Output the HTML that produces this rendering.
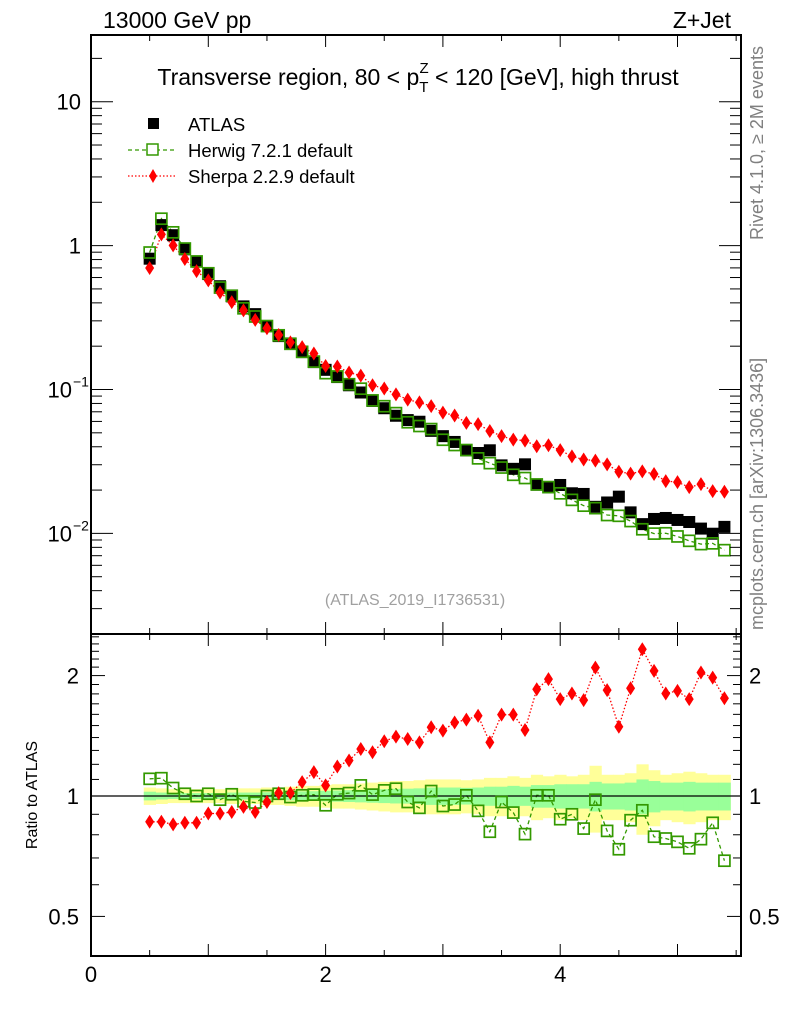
<!DOCTYPE html>
<html><head><meta charset="utf-8"><style>
body{margin:0;background:#fff}
svg text{font-family:"Liberation Sans",sans-serif}
</style></head><body>
<svg id="c" width="786" height="1024" xmlns="http://www.w3.org/2000/svg">
<text x="103" y="28" font-size="23">13000 GeV pp</text>
<text x="731" y="28" font-size="23" text-anchor="end">Z+Jet</text>
<text transform="translate(763,240) rotate(-90)" font-size="18" fill="#808080">Rivet 4.1.0, ≥ 2M events</text>
<text transform="translate(763,630) rotate(-90)" font-size="18" fill="#808080">mcplots.cern.ch [arXiv:1306.3436]</text>
<text x="418" y="85" font-size="23" text-anchor="middle">Transverse region, 80 &lt; p<tspan font-size="15" dy="7">T</tspan><tspan font-size="15" dx="-9" dy="-19">Z</tspan><tspan dy="12"> &lt; 120 [GeV], high thrust</tspan></text>
<text x="415" y="605" font-size="16" fill="#a0a0a0" text-anchor="middle">(ATLAS_2019_I1736531)</text>
<text transform="translate(37,795) rotate(-90)" font-size="16" text-anchor="middle">Ratio to ATLAS</text>
<g>
<rect x="148" y="118" width="11" height="11" fill="#000"/>
<text x="188" y="131" font-size="18.5">ATLAS</text>
<line x1="128" y1="150" x2="175" y2="150" stroke="#339900" stroke-width="1.2" stroke-dasharray="4,3"/>
<rect x="147" y="144" width="11" height="11" fill="#fff" stroke="#339900" stroke-width="1.5"/>
<text x="188" y="157" font-size="18.5">Herwig 7.2.1 default</text>
<line x1="128" y1="176" x2="175" y2="176" stroke="#f00" stroke-width="1.2" stroke-dasharray="1.5,2"/>
<path d="M153,169 L157,176 L153,183 L149,176Z" fill="#f00"/>
<text x="188" y="183" font-size="18.5">Sherpa 2.2.9 default</text>
</g>
<g id="bands"></g><g id="lines"></g><g id="marks"></g><g id="axes"></g>
</svg>
<script>
const xs=[0.5,0.6,0.7,0.8,0.9,1.0,1.1,1.2,1.3,1.4,1.5,1.6,1.7,1.8,1.9,2.0,2.1,2.2,2.3,2.4,2.5,2.6,2.7,2.8,2.9,3.0,3.1,3.2,3.3,3.4,3.5,3.6,3.7,3.8,3.9,4.0,4.1,4.2,4.3,4.4,4.5,4.6,4.7,4.8,4.9,5.0,5.1,5.2,5.3,5.4];
const atlas=[0.811,1.388,1.181,0.942,0.776,0.634,0.522,0.444,0.378,0.334,0.276,0.235,0.209,0.182,0.155,0.137,0.122,0.107,0.0953,0.0833,0.0741,0.0657,0.0613,0.0597,0.0516,0.0474,0.0432,0.0378,0.0362,0.0378,0.0297,0.0281,0.0302,0.0218,0.0209,0.0217,0.0190,0.0188,0.0153,0.0164,0.0180,0.0140,0.0116,0.0126,0.0128,0.0124,0.0120,0.0108,0.00995,0.0111];
const herwigRatio=[1.104,1.108,1.047,1.013,1.0,1.013,0.979,1.010,0.970,0.963,1.0,1.013,0.994,1.004,1.008,0.948,1.010,1.017,1.063,1.008,1.033,1.043,0.966,0.934,1.029,0.944,0.952,1.004,0.918,0.814,0.966,0.909,0.803,1.004,1.004,0.875,0.900,0.829,0.979,0.818,0.736,0.870,0.921,0.791,0.783,0.768,0.740,0.780,0.857,0.689];
const sherpaRatio=[0.862,0.862,0.849,0.857,0.857,0.904,0.904,0.912,0.939,0.912,0.966,1.017,1.017,1.083,1.147,1.063,1.185,1.227,1.311,1.286,1.370,1.407,1.388,1.362,1.485,1.457,1.527,1.552,1.587,1.362,1.597,1.597,1.462,1.849,1.959,1.746,1.804,1.737,2.094,1.839,1.490,1.859,2.327,2.055,1.804,1.832,1.746,2.036,1.976,1.756];
const totalUnc=[0.05,0.045,0.04,0.04,0.04,0.04,0.04,0.045,0.045,0.045,0.05,0.05,0.055,0.06,0.06,0.065,0.07,0.07,0.075,0.08,0.085,0.09,0.09,0.095,0.1,0.1,0.1,0.095,0.1,0.11,0.11,0.12,0.11,0.13,0.12,0.13,0.12,0.13,0.19,0.13,0.13,0.14,0.2,0.16,0.13,0.14,0.15,0.14,0.13,0.13];
const statUnc=[0.025,0.02,0.017,0.017,0.017,0.017,0.017,0.02,0.02,0.02,0.022,0.022,0.025,0.027,0.028,0.03,0.032,0.034,0.036,0.038,0.04,0.042,0.043,0.045,0.05,0.05,0.05,0.048,0.05,0.055,0.055,0.06,0.055,0.065,0.065,0.07,0.07,0.07,0.085,0.075,0.075,0.08,0.1,0.09,0.08,0.08,0.085,0.08,0.08,0.08];
const mainTicks=[{v:10,l:"10"},{v:1,l:"1"},{v:0.1,l:"10",e:"−1"},{v:0.01,l:"10",e:"−2"}];
const ratioTicks=[2,1,0.5];
const xTicks=[0,2,4];

const NS="http://www.w3.org/2000/svg";
const L=91,R=741,T=35,MB=634,RB=956;
const X=v=>L+v*117.3;
const Y=v=>245.6-143.9*Math.log10(v);
const RY=v=>796-400*Math.log10(v);
function mk(tag,attrs,parent){const e=document.createElementNS(NS,tag);for(const k in attrs)e.setAttribute(k,attrs[k]);document.getElementById(parent).appendChild(e);return e;}
xs.forEach((x,i)=>{
 let b=mk('rect',{x:X(x-0.05),y:RY(1+totalUnc[i]),width:117.3*0.1+0.5,height:RY(1-totalUnc[i])-RY(1+totalUnc[i]),fill:'#ffff99'},'bands');
 
 
});
xs.forEach((x,i)=>{
 let b=mk('rect',{x:X(x-0.05),y:RY(1+statUnc[i]),width:117.3*0.1+0.5,height:RY(1-statUnc[i])-RY(1+statUnc[i]),fill:'#99ff99'},'bands');
 
 
});
const herwig=atlas.map((a,i)=>a*herwigRatio[i]);
const sherpa=atlas.map((a,i)=>a*sherpaRatio[i]);
function poly(vals,yf,col,dash,name){
 let p=mk('polyline',{points:xs.map((x,i)=>X(x)+','+yf(vals[i])).join(' '),fill:'none',stroke:col,'stroke-width':1.3,'stroke-dasharray':dash},'lines');
 
 
}
poly(herwig,Y,'#339900','4,3','herwig-line');
poly(sherpa,Y,'#f00','1.5,2','sherpa-line');
poly(herwigRatio,RY,'#339900','4,3','herwig-ratio-line');
poly(sherpaRatio,RY,'#f00','1.5,2','sherpa-ratio-line');
mk('line',{x1:L,x2:R,y1:RY(1),y2:RY(1),stroke:'#000','stroke-width':1.3},'lines');
function sq(x,y,name){let e=mk('rect',{x:x-5.5,y:y-5.5,width:11,height:11,fill:'none',stroke:'#339900','stroke-width':1.7},'marks');
 
 }
function dia(x,y,name){let e=mk('path',{d:`M${x},${y-7}L${x+4.5},${y}L${x},${y+7}L${x-4.5},${y}Z`,fill:'#f00'},'marks');
 
 }
xs.forEach((x,i)=>{
 let a=mk('rect',{x:X(x)-6,y:Y(atlas[i])-6,width:12,height:12,fill:'#000'},'marks');
 
 
});
xs.forEach((x,i)=>{sq(X(x),Y(herwig[i]),'herwig-point');dia(X(x),Y(sherpa[i]),'sherpa-point');});
xs.forEach((x,i)=>{sq(X(x),RY(herwigRatio[i]),'herwig-ratio-point');dia(X(x),RY(sherpaRatio[i]),'sherpa-ratio-point');});
const A='axes';
mk('rect',{x:L,y:T,width:R-L,height:MB-T,fill:'none',stroke:'#000','stroke-width':2},A);
mk('rect',{x:L,y:MB,width:R-L,height:RB-MB,fill:'none',stroke:'#000','stroke-width':2},A);
for(let v=0.5;v<5.6;v+=0.5){const big=Math.abs(v-Math.round(v))<0.01;const len=big?12:6;
 mk('line',{x1:X(v),x2:X(v),y1:T,y2:T+len,stroke:'#000'},A);mk('line',{x1:X(v),x2:X(v),y1:MB,y2:MB-len,stroke:'#000'},A);
 mk('line',{x1:X(v),x2:X(v),y1:MB,y2:MB+len,stroke:'#000'},A);mk('line',{x1:X(v),x2:X(v),y1:RB,y2:RB-len,stroke:'#000'},A);}
xTicks.forEach(v=>{let t=mk('text',{x:X(v),y:982,'font-size':22,'text-anchor':'middle'},A);t.textContent=v;
 
 });
for(let d=-3;d<2;d++)for(let m=1;m<10;m++){const v=m*Math.pow(10,d);const y=Y(v);if(y<T||y>MB)continue;const len=m==1?22:11;
 mk('line',{x1:L,x2:L+len,y1:y,y2:y,stroke:'#000'},A);mk('line',{x1:R,x2:R-len,y1:y,y2:y,stroke:'#000'},A);}
mainTicks.forEach(t=>{let e=mk('text',{x:t.e?72:81,y:Y(t.v)+8,'font-size':22,'text-anchor':'end'},A);e.textContent=t.l;
 
 
 if(t.e){let s=mk('text',{x:73,y:Y(t.v)-3,'font-size':14},A);s.textContent=t.e;}});
[0.5,0.6,0.7,0.8,0.9,1,1.1,1.2,1.3,1.4,1.5,1.6,1.7,1.8,1.9,2,2.1,2.2,2.3,2.4,2.5].forEach(v=>{const y=RY(v);if(y<MB||y>RB)return;const big=[0.5,1,2].includes(v);const len=big?14:8;
 mk('line',{x1:L,x2:L+len,y1:y,y2:y,stroke:'#000'},A);mk('line',{x1:R,x2:R-len,y1:y,y2:y,stroke:'#000'},A);});
ratioTicks.forEach(v=>{let e=mk('text',{x:79,y:RY(v)+8,'font-size':22,'text-anchor':'end'},A);e.textContent=v;
 
 
 let f=mk('text',{x:749,y:RY(v)+8,'font-size':22},A);f.textContent=v;
 
 });
</script>
</body></html>
